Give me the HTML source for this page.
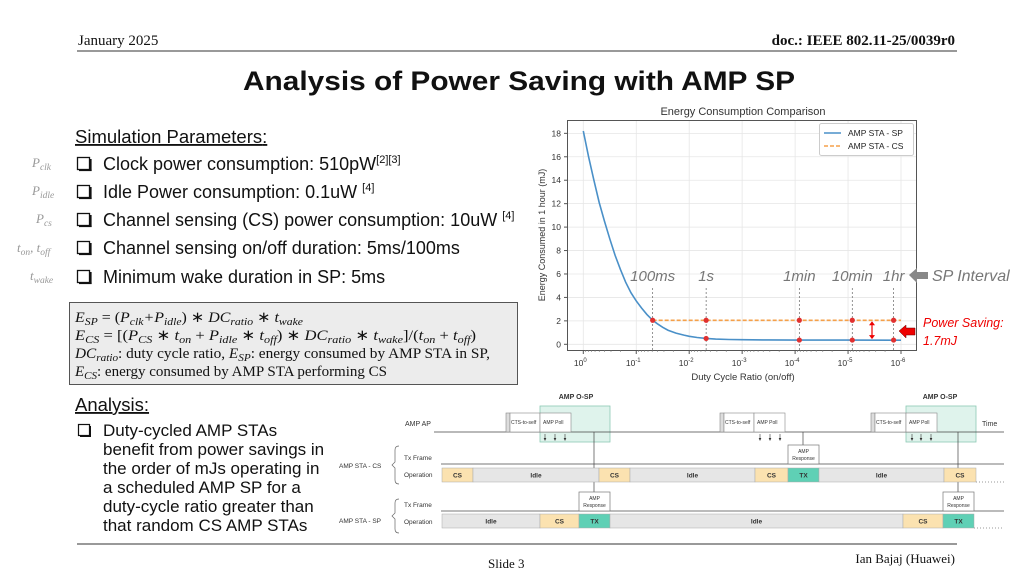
<!DOCTYPE html>
<html><head><meta charset="utf-8">
<style>
body{margin:0;background:#fff;width:1024px;height:576px;overflow:hidden;position:relative;font-family:"Liberation Sans",sans-serif}
svg{position:absolute;left:0;top:0}
.ser{font-family:"Liberation Serif",serif}
</style></head><body>
<svg id="page" width="1024" height="576" viewBox="0 0 1024 576">
<!-- header -->
<text x="78" y="45" class="ser" font-size="15" fill="#111">January 2025</text>
<text x="955" y="45" class="ser" font-size="15" font-weight="bold" text-anchor="end" fill="#111">doc.: IEEE 802.11-25/0039r0</text>
<line x1="77" y1="51" x2="957" y2="51" stroke="#333" stroke-width="1"/>
<text x="243" y="90" font-size="27" font-weight="bold" fill="#111" textLength="552" lengthAdjust="spacingAndGlyphs">Analysis of Power Saving with AMP SP</text>
<!-- footer -->
<line x1="77" y1="544" x2="957" y2="544" stroke="#333" stroke-width="1"/>
<text x="488" y="568" class="ser" font-size="13" fill="#111">Slide 3</text>
<text x="955" y="563" class="ser" font-size="13" text-anchor="end" fill="#111">Ian Bajaj (Huawei)</text>

<!-- simulation parameters -->
<g>
<text x="75" y="143" font-size="18.5" fill="#111" text-decoration="underline">Simulation Parameters<tspan text-decoration="none">:</tspan></text>
<g font-size="18" fill="#111">
<text x="103" y="170">Clock power consumption: 510pW<tspan font-size="11" dy="-7">[2][3]</tspan></text>
<text x="103" y="198">Idle Power consumption: 0.1uW <tspan font-size="11" dy="-7">[4]</tspan></text>
<text x="103" y="226">Channel sensing (CS) power consumption: 10uW <tspan font-size="11" dy="-7">[4]</tspan></text>
<text x="103" y="254">Channel sensing on/off duration: 5ms/100ms</text>
<text x="103" y="283">Minimum wake duration in SP: 5ms</text>
</g>
<g fill="none" stroke="#111" stroke-width="1.3">
<rect x="77.5" y="157.5" width="12" height="12"/><rect x="77.5" y="185.5" width="12" height="12"/><rect x="77.5" y="213.5" width="12" height="12"/><rect x="77.5" y="241.5" width="12" height="12"/><rect x="77.5" y="270.5" width="12" height="12"/>
</g>
<g fill="#111"><rect x="90" y="159" width="1.6" height="12"/><rect x="79" y="169.5" width="12.6" height="1.6"/>
<rect x="90" y="187" width="1.6" height="12"/><rect x="79" y="197.5" width="12.6" height="1.6"/>
<rect x="90" y="215" width="1.6" height="12"/><rect x="79" y="225.5" width="12.6" height="1.6"/>
<rect x="90" y="243" width="1.6" height="12"/><rect x="79" y="253.5" width="12.6" height="1.6"/>
<rect x="90" y="272" width="1.6" height="12"/><rect x="79" y="282.5" width="12.6" height="1.6"/></g>
<g class="ser" font-style="italic" font-size="13" fill="#999">
<text x="32" y="167">P<tspan font-size="9.5" dy="3">clk</tspan></text>
<text x="32" y="195">P<tspan font-size="9.5" dy="3">idle</tspan></text>
<text x="36" y="223">P<tspan font-size="9.5" dy="3">cs</tspan></text>
<text x="17" y="252">t<tspan font-size="9.5" dy="3">on</tspan><tspan dy="-3">, t</tspan><tspan font-size="9.5" dy="3">off</tspan></text>
<text x="30" y="280">t<tspan font-size="9.5" dy="3">wake</tspan></text>
</g>
</g>

<!-- formula box -->
<g>
<rect x="69.5" y="302.5" width="448" height="82" fill="#ececec" stroke="#555" stroke-width="1"/>
<g class="ser" font-size="15" fill="#111">
<text x="75" y="322" textLength="228" lengthAdjust="spacingAndGlyphs"><tspan font-style="italic">E<tspan font-size="11" dy="3">SP</tspan></tspan><tspan dy="-3"> = (</tspan><tspan font-style="italic">P<tspan font-size="11" dy="3">clk</tspan><tspan dy="-3">+P</tspan><tspan font-size="11" dy="3">idle</tspan></tspan><tspan dy="-3">) ∗ </tspan><tspan font-style="italic">DC<tspan font-size="11" dy="3">ratio</tspan></tspan><tspan dy="-3"> ∗ </tspan><tspan font-style="italic">t<tspan font-size="11" dy="3">wake</tspan></tspan></text>
<text x="75" y="340" textLength="401" lengthAdjust="spacingAndGlyphs"><tspan font-style="italic">E<tspan font-size="11" dy="3">CS</tspan></tspan><tspan dy="-3"> = [(</tspan><tspan font-style="italic">P<tspan font-size="11" dy="3">CS</tspan></tspan><tspan dy="-3"> ∗ </tspan><tspan font-style="italic">t<tspan font-size="11" dy="3">on</tspan></tspan><tspan dy="-3"> + </tspan><tspan font-style="italic">P<tspan font-size="11" dy="3">idle</tspan></tspan><tspan dy="-3"> ∗ </tspan><tspan font-style="italic">t<tspan font-size="11" dy="3">off</tspan></tspan><tspan dy="-3">) ∗ </tspan><tspan font-style="italic">DC<tspan font-size="11" dy="3">ratio</tspan></tspan><tspan dy="-3"> ∗ </tspan><tspan font-style="italic">t<tspan font-size="11" dy="3">wake</tspan></tspan><tspan dy="-3">]/(</tspan><tspan font-style="italic">t<tspan font-size="11" dy="3">on</tspan></tspan><tspan dy="-3"> + </tspan><tspan font-style="italic">t<tspan font-size="11" dy="3">off</tspan></tspan><tspan dy="-3">)</tspan></text>
<text x="75" y="358" textLength="415" lengthAdjust="spacingAndGlyphs"><tspan font-style="italic">DC<tspan font-size="11" dy="3">ratio</tspan></tspan><tspan dy="-3">: duty cycle ratio, </tspan><tspan font-style="italic">E<tspan font-size="11" dy="3">SP</tspan></tspan><tspan dy="-3">: energy consumed by AMP STA in SP,</tspan></text>
<text x="75" y="376" textLength="312" lengthAdjust="spacingAndGlyphs"><tspan font-style="italic">E<tspan font-size="11" dy="3">CS</tspan></tspan><tspan dy="-3">: energy consumed by AMP STA performing CS</tspan></text>
</g>
</g>

<!-- analysis -->
<g font-size="17" fill="#111">
<text x="75" y="411" text-decoration="underline" font-size="18.5">Analysis:</text>
<rect x="78.5" y="424.5" width="11" height="11" fill="none" stroke="#111" stroke-width="1.2"/>
<rect x="89.5" y="426" width="1.5" height="11"/><rect x="80" y="435.5" width="11" height="1.5"/>
<text x="103" y="436">Duty-cycled AMP STAs</text>
<text x="103" y="455">benefit from power savings in</text>
<text x="103" y="474">the order of mJs operating in</text>
<text x="103" y="493">a scheduled AMP SP for a</text>
<text x="103" y="512">duty-cycle ratio greater than</text>
<text x="103" y="531">that random CS AMP STAs</text>
</g>

<!-- chart -->
<g id="chart">
<text x="743" y="115" font-size="11" fill="#333" text-anchor="middle">Energy Consumption Comparison</text>
<rect x="567.5" y="120.5" width="349" height="230" fill="#fff" stroke="#555" stroke-width="1"/>
<g id="grid"></g>
<g id="axes"></g>
<g id="series"></g>
<text transform="translate(545,235) rotate(-90)" font-size="9" fill="#333" text-anchor="middle">Energy Consumed in 1 hour (mJ)</text>
<text x="743" y="380" font-size="9.5" fill="#333" text-anchor="middle">Duty Cycle Ratio (on/off)</text>
<g>
<rect x="819.5" y="123.5" width="94" height="32" rx="2" fill="#fff" stroke="#ccc"/>
<line x1="824" y1="133" x2="841" y2="133" stroke="#4a90c8" stroke-width="1.6"/>
<text x="848" y="136" font-size="8.5" fill="#222">AMP STA - SP</text>
<line x1="824" y1="146" x2="841" y2="146" stroke="#f5a04a" stroke-width="1.6" stroke-dasharray="4,2"/>
<text x="848" y="149" font-size="8.5" fill="#222">AMP STA - CS</text>
</g>
<g id="intervals" font-size="15" font-style="italic" fill="#777" text-anchor="middle"></g>
<g>
<polygon points="909,275 917,268 917,272 928,272 928,279 917,279 917,283" fill="#888"/>
<text x="932" y="281" font-size="16" font-style="italic" fill="#777">SP Interval</text>
</g>
<g>
<polygon points="899,331 906,325 906,328 915,328 915,335 906,335 906,338" fill="#e00" stroke="#600" stroke-width="0.5"/>
<text x="923" y="327" font-size="12.5" font-style="italic" fill="#e00">Power Saving:</text>
<text x="923" y="345" font-size="12.5" font-style="italic" fill="#e00">1.7mJ</text>
</g>
</g>

<!-- timing diagram -->
<g font-size="6" fill="#333">
<text x="576" y="399" font-size="7" font-weight="bold" text-anchor="middle">AMP O-SP</text>
<text x="940" y="399" font-size="7" font-weight="bold" text-anchor="middle">AMP O-SP</text>
<rect x="540" y="406" width="70" height="36" fill="#dff3ec" stroke="#8cc9b4" stroke-width="0.8"/>
<rect x="906" y="406" width="70" height="36" fill="#dff3ec" stroke="#8cc9b4" stroke-width="0.8"/>
<text x="405" y="426" font-size="7">AMP AP</text>
<text x="982" y="426" font-size="7">Time</text>
<line x1="434" y1="432" x2="1004" y2="432" stroke="#444" stroke-width="0.8"/>
<g id="ap-frames"></g>
<text x="339" y="468" font-size="6.5">AMP STA - CS</text>
<text x="339" y="523" font-size="6.5">AMP STA - SP</text>
<path d="M399,446 q-4,0 -4,4 v12 l-3,3 l3,3 v12 q0,4 4,4" fill="none" stroke="#666" stroke-width="0.7"/>
<path d="M399,499 q-4,0 -4,4 v10 l-3,3 l3,3 v10 q0,4 4,4" fill="none" stroke="#666" stroke-width="0.7"/>
<text x="404" y="460" font-size="6.5">Tx Frame</text>
<text x="404" y="477" font-size="6.5">Operation</text>
<text x="404" y="507" font-size="6.5">Tx Frame</text>
<text x="404" y="524" font-size="6.5">Operation</text>
<line x1="441" y1="464" x2="1004" y2="464" stroke="#777" stroke-width="1"/>
<line x1="441" y1="511" x2="1004" y2="511" stroke="#777" stroke-width="1"/>
<line x1="976" y1="482" x2="1004" y2="482" stroke="#999" stroke-dasharray="1,2"/>
<line x1="974" y1="528" x2="1004" y2="528" stroke="#999" stroke-dasharray="1,2"/>
<line x1="594" y1="432" x2="594" y2="492" stroke="#444" stroke-width="0.7"/>
<line x1="803" y1="432" x2="803" y2="445" stroke="#444" stroke-width="0.7"/>
<line x1="958" y1="432" x2="958" y2="492" stroke="#444" stroke-width="0.7"/>
<g fill="#fff" stroke="#777" stroke-width="0.7">
<rect x="788" y="445" width="31" height="19"/><rect x="579" y="492" width="31" height="19"/><rect x="943" y="492" width="31" height="19"/>
</g>
<g font-size="5" text-anchor="middle">
<text x="803.5" y="453">AMP</text><text x="803.5" y="460">Response</text>
<text x="594.5" y="500">AMP</text><text x="594.5" y="507">Response</text>
<text x="958.5" y="500">AMP</text><text x="958.5" y="507">Response</text>
</g>
<g id="ops" font-size="6.5" font-weight="bold" text-anchor="middle"></g>
</g>
</svg>
<script>
// ---- chart data ----
const xTickLabels = ["0","-1","-2","-3","-4","-5","-6"];
const yTicks = [0,2,4,6,8,10,12,14,16,18];
const spLogRatio = [0,0.1,0.2,0.3,0.4,0.5,0.6,0.7,0.8,0.9,1.0,1.1,1.2,1.31,1.4,1.5,1.6,1.75,1.9,2.0,2.15,2.32,2.5,2.75,3.0,3.5,4.0,5.0,6.0];
const spValues   = [18.2,16.0,14.0,12.1,10.5,9.0,7.6,6.4,5.3,4.4,3.7,3.1,2.55,2.05,1.75,1.45,1.2,0.95,0.78,0.68,0.58,0.5,0.45,0.41,0.39,0.37,0.36,0.36,0.35];
const csLogRange = [1.31,6.0];
const csValue = 2.05;
const intervalLabels = ["100ms","1s","1min","10min","1hr"];
const intervalLogRatio = [1.31,2.32,4.08,5.08,5.86];
const intervalSpValues = [2.05,0.5,0.36,0.36,0.36];

const NS="http://www.w3.org/2000/svg";
function xs(d){return 583.3+d*52.95;}
function ys(v){return 344.3-v*11.72;}
function mk(tag,attrs,parent){const e=document.createElementNS(NS,tag);for(const k in attrs)e.setAttribute(k,attrs[k]);parent.appendChild(e);return e;}
const grid=document.getElementById('grid'),axes=document.getElementById('axes'),series=document.getElementById('series'),iv=document.getElementById('intervals');
yTicks.forEach(v=>{
  const g=mk('line',{x1:568,x2:916,y1:ys(v),y2:ys(v),stroke:'#e6e6e6','stroke-width':0.8},grid);
  
  
  mk('line',{x1:564,x2:568,y1:ys(v),y2:ys(v),stroke:'#555'},axes);
  const t=mk('text',{x:561,y:ys(v)+3,'font-size':8.5,fill:'#333','text-anchor':'end'},axes);
  t.textContent=v;
  
  
});
xTickLabels.forEach((lab,i)=>{
  const x=xs(i);
  mk('line',{x1:x,x2:x,y1:121,y2:350,stroke:'#e6e6e6','stroke-width':0.8},grid);
  mk('line',{x1:x,x2:x,y1:350,y2:354,stroke:'#555'},axes);
  for(let m=2;m<10&&i<6;m++){const xm=xs(i+1-Math.log10(m));mk('line',{x1:xm,x2:xm,y1:350,y2:352,stroke:'#777','stroke-width':0.6},axes);}
  const t=mk('text',{x:x-3,y:366,'font-size':8.5,fill:'#333','text-anchor':'middle'},axes);
  t.textContent='10';
  const s=mk('tspan',{'font-size':6,dy:-4},t);s.textContent=lab;
  
  
});
const sp=mk('polyline',{points:spLogRatio.map((d,i)=>xs(d)+','+ys(spValues[i])).join(' '),fill:'none',stroke:'#4a90c8','stroke-width':1.6},series);


const cs=mk('line',{x1:xs(csLogRange[0]),x2:xs(csLogRange[1]),y1:ys(csValue),y2:ys(csValue),stroke:'#f5a04a','stroke-width':1.6,'stroke-dasharray':'4,2'},series);


intervalLabels.forEach((lab,i)=>{
  const x=xs(intervalLogRatio[i]);
  mk('line',{x1:x,x2:x,y1:288,y2:350,stroke:'#666','stroke-width':0.7,'stroke-dasharray':'2,2'},series);
  const t=mk('text',{x:x,y:281},iv);t.textContent=lab;
  
  
  const p1=mk('circle',{cx:x,cy:ys(csValue),r:2.6,fill:'#e03030'},series);
  
  
  if(i>0){const p2=mk('circle',{cx:x,cy:ys(intervalSpValues[i]),r:2.6,fill:'#e03030'},series);
  
  }
});
const ax=872;
mk('line',{x1:ax,x2:ax,y1:ys(csValue)+4,y2:ys(0.36)-4,stroke:'#e00','stroke-width':1.2},series);
mk('polygon',{points:`${ax-3},${ys(csValue)+5} ${ax+3},${ys(csValue)+5} ${ax},${ys(csValue)+1}`,fill:'#e00'},series);
mk('polygon',{points:`${ax-3},${ys(0.36)-5} ${ax+3},${ys(0.36)-5} ${ax},${ys(0.36)-1}`,fill:'#e00'},series);

// ---- timing diagram ----
const apFrames=[[506,540,571,[545,555,565]],[720,754,785,[760,770,780]],[871,906,937,[912,921,931]]];
const apg=document.getElementById('ap-frames');
apFrames.forEach(f=>{
  mk('rect',{x:f[0],y:413,width:4,height:19,fill:'#ddd',stroke:'#888','stroke-width':0.6},apg);
  mk('rect',{x:f[0]+4,y:413,width:f[1]-f[0]-4,height:19,fill:'#fff',stroke:'#888','stroke-width':0.6},apg);
  mk('rect',{x:f[1],y:413,width:f[2]-f[1],height:19,fill:'#fff',stroke:'#888','stroke-width':0.6},apg);
  const t1=mk('text',{x:f[0]+5,y:424,'font-size':5},apg);t1.textContent='CTS-to-self';
  const t2=mk('text',{x:f[1]+3,y:424,'font-size':5},apg);t2.textContent='AMP Poll';
  f[3].forEach(x=>{mk('line',{x1:x,x2:x,y1:434,y2:439,stroke:'#333','stroke-width':0.6},apg);mk('polygon',{points:`${x-1.3},438 ${x+1.3},438 ${x},441`,fill:'#333'},apg);});
});
const colors={CS:'#fbe2b0',Idle:'#e6e6e6',TX:'#5fd0b5'};
const csRow=[['CS',442,473],['Idle',473,599],['CS',599,630],['Idle',630,755],['CS',755,788],['TX',788,819],['Idle',819,944],['CS',944,976]];
const spRow=[['Idle',442,540],['CS',540,579],['TX',579,610],['Idle',610,903],['CS',903,943],['TX',943,974]];
const ops=document.getElementById('ops');
[[csRow,468],[spRow,514]].forEach(([row,y])=>{
  row.forEach(s=>{
    const r=mk('rect',{x:s[1],y:y,width:s[2]-s[1],height:14,fill:colors[s[0]],stroke:'#aaa','stroke-width':0.5},ops);
    
    
    const t=mk('text',{x:(s[1]+s[2])/2,y:y+9.5,fill:'#333'},ops);t.textContent=s[0];
  });
});
</script>
</body></html>
